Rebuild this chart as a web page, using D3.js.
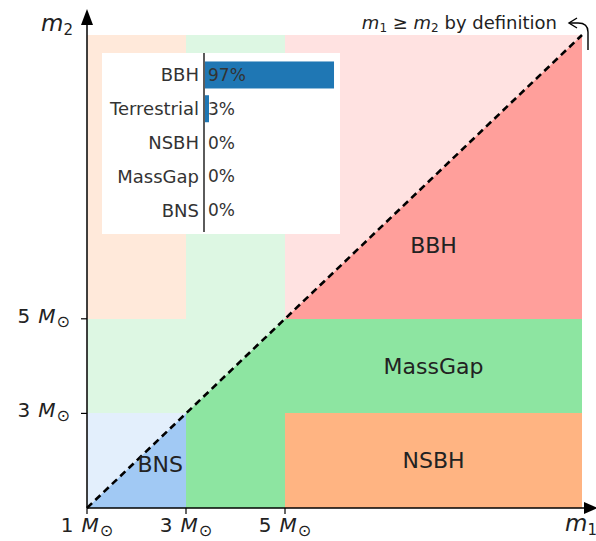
<!DOCTYPE html>
<html>
<head>
<meta charset="utf-8">
<script src="https://cdn.jsdelivr.net/npm/d3@7/dist/d3.min.js"></script>
<style>
  html, body { margin: 0; padding: 0; background: #fff; }
  svg { display: block; font-family: "DejaVu Sans", sans-serif; }
</style>
</head>
<body>
<svg id="chart" width="596" height="541"></svg>
<script>
// Mass range (solar masses) and class boundaries
const massDomain = [1, 11];
const massTicks = [1, 3, 5];

// Source classes in the m1 >= m2 half-plane: [m1 from, m1 to, m2 from, m2 to]
const regionNames = ["BNS", "MassGap", "MassGap", "NSBH", "BBH"];
const regionBoxes = [
  [1, 3, 1, 3],
  [3, 5, 1, 5],
  [5, 11, 3, 5],
  [5, 11, 1, 3],
  [5, 11, 5, 11]
];
const regionColors = {BNS: "#a1c9f4", MassGap: "#8de5a1", NSBH: "#ffb482", BBH: "#ff9f9b"};

// Class label placements (m1, m2)
const labelNames = ["BBH", "MassGap", "NSBH", "BNS"];
const labelPos = [[8, 6.55], [8, 4.0], [8, 2.0], [2.48, 1.93]];

// Source classification probabilities (%)
const probCategories = ["BBH", "Terrestrial", "NSBH", "MassGap", "BNS"];
const probValues = [97, 3, 0, 0, 0];

const svg = d3.select("#chart");
const x = d3.scaleLinear().domain(massDomain).range([87, 582]);
const y = d3.scaleLinear().domain(massDomain).range([508, 35]);

const defs = svg.append("defs");
const lo = massDomain[0], hi = massDomain[1];
defs.append("clipPath").attr("id", "lower")
  .append("polygon")
  .attr("points", [[lo, lo], [hi, lo], [hi, hi]].map(p => [x(p[0]), y(p[1])].join(",")).join(" "));
defs.append("clipPath").attr("id", "upper")
  .append("polygon")
  .attr("points", [[lo, lo], [lo, hi], [hi, hi]].map(p => [x(p[0]), y(p[1])].join(",")).join(" "));

// Mirrored (m2 > m1) half: pale tints
const pale = c => d3.interpolateRgb("#ffffff", c)(0.3);
svg.append("g").attr("clip-path", "url(#upper)")
  .selectAll("rect").data(regionBoxes).join("rect")
  .attr("x", d => x(d[2])).attr("width", d => x(d[3]) - x(d[2]))
  .attr("y", d => y(d[1])).attr("height", d => y(d[0]) - y(d[1]))
  .attr("fill", (d, i) => pale(regionColors[regionNames[i]]))
  .attr("shape-rendering", "crispEdges");

// Physical (m1 >= m2) half: full colours
svg.append("g").attr("clip-path", "url(#lower)")
  .selectAll("rect").data(regionBoxes).join("rect")
  .attr("x", d => x(d[0])).attr("width", d => x(d[1]) - x(d[0]))
  .attr("y", d => y(d[3])).attr("height", d => y(d[2]) - y(d[3]))
  .attr("fill", (d, i) => regionColors[regionNames[i]])
  .attr("shape-rendering", "crispEdges");

// Diagonal m1 = m2
svg.append("line")
  .attr("x1", x(lo)).attr("y1", y(lo)).attr("x2", x(hi)).attr("y2", y(hi))
  .attr("stroke", "#000").attr("stroke-width", 2.6).attr("stroke-dasharray", "7,4.5");

// Class labels
svg.append("g").selectAll("text").data(labelNames).join("text")
  .attr("x", (d, i) => x(labelPos[i][0])).attr("y", (d, i) => y(labelPos[i][1]))
  .attr("text-anchor", "middle").attr("dominant-baseline", "central")
  .attr("font-size", 22).attr("fill", "#222")
  .text(d => d);

// Axes with arrowheads
const axisG = svg.append("g");
axisG.append("line").attr("x1", x(lo)).attr("y1", y(lo)).attr("x2", 590).attr("y2", y(lo))
  .attr("stroke", "#000").attr("stroke-width", 1.5);
axisG.append("line").attr("x1", x(lo)).attr("y1", y(lo)).attr("x2", x(lo)).attr("y2", 18)
  .attr("stroke", "#000").attr("stroke-width", 1.5);
axisG.append("path").attr("d", `M${x(lo)},9 L${x(lo) - 6},25 L${x(lo) + 6},25 Z`).attr("fill", "#000");
axisG.append("path").attr("d", `M598,${y(lo)} L584,${y(lo) - 6} L584,${y(lo) + 6} Z`).attr("fill", "#000");

// Solar-mass tick label: "<n> M⊙"
function massLabel(sel) {
  sel.append("tspan").text(d => d);
  sel.append("tspan").attr("dx", 8).attr("font-style", "italic").text("M");
  sel.append("tspan").attr("dx", 1).attr("font-size", 16).attr("dy", 4).text("\u2299");
}

const xt = axisG.append("g").selectAll("g").data(massTicks).join("g")
  .attr("transform", d => `translate(${x(d)},${y(lo)})`);
xt.append("line").attr("y2", 6).attr("stroke", "#000").attr("stroke-width", 1.2);
xt.append("text").attr("y", 24).attr("text-anchor", "middle")
  .attr("font-size", 20).attr("fill", "#222").call(massLabel);

const yt = axisG.append("g").selectAll("g").data(massTicks.slice(1)).join("g")
  .attr("transform", d => `translate(${x(lo)},${y(d)})`);
yt.append("line").attr("x2", -6).attr("stroke", "#000").attr("stroke-width", 1.2);
yt.append("text").attr("x", -17).attr("y", 4).attr("text-anchor", "end")
  .attr("font-size", 20).attr("fill", "#222").call(massLabel);

// Axis titles
const m2 = svg.append("text").attr("x", 73).attr("y", 31).attr("text-anchor", "end")
  .attr("font-size", 23).attr("fill", "#222");
m2.append("tspan").attr("font-style", "italic").text("m");
m2.append("tspan").attr("font-size", 15).attr("dy", 4).text("2");
const m1 = svg.append("text").attr("x", 597).attr("y", 531).attr("text-anchor", "end")
  .attr("font-size", 23).attr("fill", "#222");
m1.append("tspan").attr("font-style", "italic").text("m");
m1.append("tspan").attr("font-size", 15).attr("dy", 4).text("1");

// Note on the ordering convention
const note = svg.append("text").attr("x", 557).attr("y", 29).attr("text-anchor", "end")
  .attr("font-size", 18).attr("fill", "#222");
note.append("tspan").attr("font-style", "italic").text("m");
note.append("tspan").attr("font-size", 12).attr("dy", 3).text("1");
note.append("tspan").attr("dy", -3).text(" \u2265 ");
note.append("tspan").attr("font-style", "italic").text("m");
note.append("tspan").attr("font-size", 12).attr("dy", 3).text("2");
note.append("tspan").attr("dy", -3).text(" by definition");
svg.append("path").attr("d", "M588,50 L588,32 C588,26 584,23 578,23 L570,23")
  .attr("fill", "none").attr("stroke", "#000").attr("stroke-width", 1.4);
svg.append("path").attr("d", "M577,18 L569,23 L577,28")
  .attr("fill", "none").attr("stroke", "#000").attr("stroke-width", 1.4);

// Inset: classification probabilities
const inset = svg.append("g");
inset.append("rect").attr("x", 102).attr("y", 53).attr("width", 238).attr("height", 181).attr("fill", "#fff");
const px = d3.scaleLinear().domain([0, 100]).range([205, 338]);
const py = d3.scaleBand().domain(probCategories).range([58.1, 226.9]).paddingInner(0.2).paddingOuter(0.1);
inset.selectAll("rect.bar").data(probValues).join("rect").attr("class", "bar")
  .attr("x", px(0)).attr("y", (d, i) => py(probCategories[i]))
  .attr("width", d => px(d) - px(0)).attr("height", py.bandwidth())
  .attr("fill", "#1f77b4");
inset.append("line").attr("x1", 204).attr("x2", 204).attr("y1", 53).attr("y2", 232)
  .attr("stroke", "#333").attr("stroke-width", 1.6);
inset.selectAll("text.cat").data(probCategories).join("text").attr("class", "cat")
  .attr("x", 199).attr("y", d => py(d) + py.bandwidth() / 2)
  .attr("text-anchor", "end").attr("dominant-baseline", "central")
  .attr("font-size", 18).attr("fill", "#333").text(d => d);
inset.selectAll("text.val").data(probValues).join("text").attr("class", "val")
  .attr("x", 208).attr("y", (d, i) => py(probCategories[i]) + py.bandwidth() / 2)
  .attr("dominant-baseline", "central")
  .attr("font-size", 17).attr("fill", "#333").text(d => d + "%");
</script>
</body>
</html>
